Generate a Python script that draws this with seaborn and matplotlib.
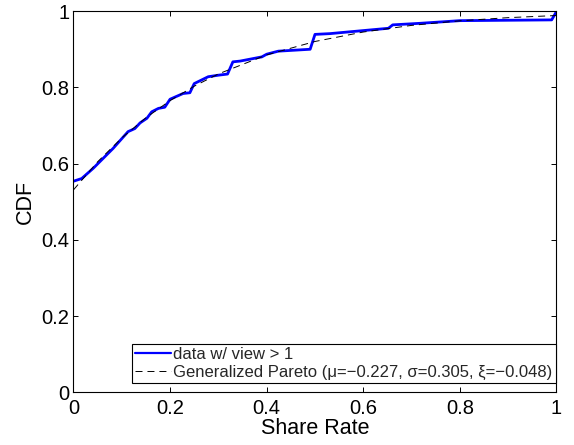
import matplotlib
matplotlib.use("Agg")
import matplotlib.pyplot as plt
import seaborn as sns
import pandas as pd

# Empirical CDF of share rate (videos with more than one view)
share_rate = [0, 0.017, 0.041, 0.082, 0.113, 0.127, 0.138, 0.152, 0.162, 0.176,
              0.189, 0.2, 0.227, 0.241, 0.25, 0.279, 0.3, 0.319, 0.33, 0.345,
              0.39, 0.4, 0.424, 0.49, 0.5, 0.531, 0.6, 0.652, 0.661, 0.717,
              0.8, 0.99, 1.0]
cdf_data = [0.554, 0.561, 0.588, 0.640, 0.684, 0.692, 0.707, 0.719, 0.736, 0.745,
            0.748, 0.769, 0.784, 0.786, 0.810, 0.828, 0.832, 0.835, 0.867, 0.869,
            0.880, 0.887, 0.895, 0.900, 0.939, 0.941, 0.949, 0.955, 0.964, 0.968,
            0.975, 0.977, 0.999]

# Fitted generalized Pareto CDF, sampled along the share-rate axis
fit_x = [0, 0.05, 0.1, 0.15, 0.2, 0.25, 0.3, 0.4, 0.5, 0.6, 0.7, 0.8, 0.9, 1.0]
fit_cdf = [0.5313, 0.6049, 0.6674, 0.7204, 0.7653, 0.8032, 0.8353, 0.8852,
           0.9204, 0.9452, 0.9626, 0.9746, 0.9829, 0.9885]

data_label = "data w/ view > 1"
fit_label = "Generalized Pareto (\u03bc=\u22120.227, \u03c3=0.305, \u03be=\u22120.048)"
ticks = [0, 0.2, 0.4, 0.6, 0.8, 1]
tick_labels = ["0", "0.2", "0.4", "0.6", "0.8", "1"]

sns.set_theme(style="white")
plt.rcParams["font.family"] = ["Liberation Sans", "DejaVu Sans"]

fig = plt.figure(figsize=(5.74, 4.45), dpi=100)
ax = fig.add_axes([0.128, 0.118, 0.8415, 0.857])

df_data = pd.DataFrame({"x": share_rate, "y": cdf_data})
df_fit = pd.DataFrame({"x": fit_x, "y": fit_cdf})

sns.lineplot(data=df_data, x="x", y="y", ax=ax, color="#0000ff", linewidth=2.0,
             label=data_label, sort=False, estimator=None)
sns.lineplot(data=df_fit, x="x", y="y", ax=ax, color="black", linewidth=0.7,
             linestyle=(0, (7.2, 5.1)), label=fit_label, sort=False, estimator=None)

ax.set_xlim(0, 1)
ax.set_ylim(0, 1)
ax.set_xticks(ticks)
ax.set_xticklabels(tick_labels)
ax.set_yticks(ticks)
ax.set_yticklabels(tick_labels)
ax.set_xlabel("Share Rate", fontsize=15.5, color="black", labelpad=0)
ax.set_ylabel("CDF", fontsize=15.5, color="black", labelpad=4)
ax.tick_params(axis="both", which="both", direction="in", length=3.5, width=0.7,
               top=True, right=True, bottom=True, left=True,
               labelsize=14.5, labelcolor="black", color="black")
ax.tick_params(axis="x", pad=5)
ax.tick_params(axis="y", pad=3)
for spine in ax.spines.values():
    spine.set_visible(True)
    spine.set_color("black")
    spine.set_linewidth(0.8)

leg = ax.legend(loc="lower right", bbox_to_anchor=(0.998, 0.025), borderaxespad=0,
                fontsize=12, frameon=True, fancybox=False, framealpha=1,
                edgecolor="black", borderpad=0.2, handlelength=2.16,
                handletextpad=0.1, labelspacing=0.15)
leg.get_frame().set_linewidth(0.8)
leg.get_lines()[0].set_linewidth(1.6)

fig.savefig("out.png", dpi=100, facecolor="white")
